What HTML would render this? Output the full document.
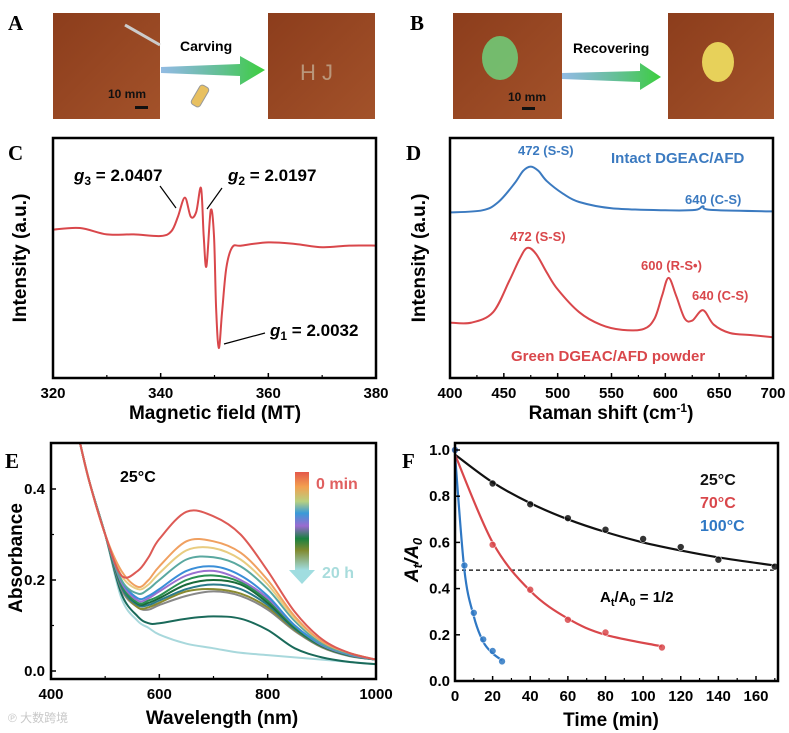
<!DOCTYPE html>
<html><head><meta charset="utf-8"><style>
body{margin:0;background:#fff;}
svg{display:block;font-family:"Liberation Sans","Noto Sans CJK SC",sans-serif;}
.t{font-weight:bold;font-size:15px;}
.ti{font-weight:bold;font-size:19px;}
.pl{font-family:"Liberation Serif",serif;font-weight:bold;font-size:21px;}
</style></head><body>
<svg id="fig" width="789" height="733" viewBox="0 0 789 733" xmlns="http://www.w3.org/2000/svg">
<defs>
<linearGradient id="photo" x1="0" y1="0" x2="1" y2="1"><stop offset="0" stop-color="#8c3d1c"/><stop offset="1" stop-color="#a3522a"/></linearGradient>
<linearGradient id="arr" x1="0" y1="0" x2="1" y2="0"><stop offset="0" stop-color="#4a8ed0" stop-opacity="0.6"/><stop offset="1" stop-color="#3ccf3c"/></linearGradient>
<linearGradient id="cbar" x1="0" y1="0" x2="0" y2="1"><stop offset="0" stop-color="#e4584a"/><stop offset="0.15" stop-color="#f2a050"/><stop offset="0.3" stop-color="#b8d080"/><stop offset="0.42" stop-color="#3a9ad8"/><stop offset="0.55" stop-color="#9a6ad0"/><stop offset="0.68" stop-color="#1a8040"/><stop offset="0.8" stop-color="#808a30"/><stop offset="1" stop-color="#a0dde0"/></linearGradient>
<clipPath id="clipE"><rect x="51" y="443" width="325" height="236"/></clipPath>
</defs>
<g id="panelA">
<text class="pl" x="8" y="30">A</text>
<rect x="53" y="13" width="107" height="106" fill="url(#photo)"/>
<line x1="125" y1="25" x2="160" y2="45" stroke="#ccc" stroke-width="3"/>
<text x="108" y="98" font-size="12" font-weight="bold" fill="#111">10 mm</text>
<rect x="135" y="106" width="13" height="3" fill="#111"/>
<polygon points="161,67 240,64 240,56 265,70 240,85 240,76 161,73" fill="url(#arr)"/>
<text x="180" y="51" font-size="14" font-weight="bold">Carving</text>
<rect x="195" y="85" width="10" height="22" rx="3" transform="rotate(30 200 96)" fill="#e8c060" stroke="#999"/>
<rect x="268" y="13" width="107" height="106" fill="url(#photo)"/>
<text x="300" y="80" font-size="22" fill="#c8b8a0" opacity="0.7">H J</text>
<text class="pl" x="410" y="30">B</text>
<rect x="453" y="13" width="109" height="106" fill="url(#photo)"/>
<ellipse cx="500" cy="58" rx="18" ry="22" fill="#6fd07a" opacity="0.85"/>
<text x="508" y="101" font-size="12" font-weight="bold" fill="#111">10 mm</text>
<rect x="522" y="107" width="13" height="3" fill="#111"/>
<polygon points="562,73 640,71 640,63 661,77 640,90 640,82 562,79" fill="url(#arr)"/>
<text x="573" y="53" font-size="14" font-weight="bold">Recovering</text>
<rect x="668" y="13" width="106" height="106" fill="url(#photo)"/>
<ellipse cx="718" cy="62" rx="16" ry="20" fill="#f0e060" opacity="0.9"/>
</g>
<g id="C"></g>
<g id="D"></g>
<g id="E"></g>
<g id="F"></g>
<text x="8" y="722" font-size="12" fill="#c8c8c8">℗ 大数跨境</text>
</svg>
<script>
// ---- data ----
const cField=[320,325,330,335,340,342,343.2,344.5,345.6,346.6,347.5,348.0,348.5,349.3,349.9,350.3,350.8,351.4,352.2,353.3,355,360,365,370,375,380];
const cIntensity=[0.74,0.75,0.71,0.71,0.70,0.73,0.82,0.94,0.82,0.85,1.0,0.70,0.51,0.86,0.70,0.25,0.0,0.22,0.50,0.63,0.64,0.66,0.65,0.63,0.64,0.64];
const dShift=[400,430,445,460,468,475,482,490,505,520,550,600,628,635,642,700];
const dIntact=[0.70,0.71,0.75,0.84,0.90,0.92,0.90,0.85,0.79,0.75,0.72,0.71,0.712,0.73,0.712,0.705];
const dGreenShift=[400,420,440,455,465,472,480,490,500,520,540,560,580,590,597,603,610,618,625,635,645,660,680,700];
const dGreen=[0.17,0.17,0.22,0.37,0.48,0.53,0.50,0.41,0.33,0.22,0.16,0.135,0.14,0.19,0.30,0.385,0.30,0.19,0.18,0.23,0.16,0.12,0.11,0.10];
const eWl=[450,470,500,530,560,580,600,650,700,750,800,850,900,950,1000];
const eCurves=[
[0.52,0.42,0.30,0.21,0.22,0.25,0.29,0.35,0.34,0.30,0.22,0.13,0.07,0.04,0.025],
[0.52,0.42,0.30,0.22,0.185,0.20,0.23,0.285,0.285,0.26,0.20,0.12,0.065,0.04,0.025],
[0.52,0.42,0.30,0.21,0.18,0.19,0.215,0.265,0.27,0.245,0.19,0.115,0.065,0.04,0.025],
[0.52,0.42,0.30,0.20,0.17,0.18,0.20,0.245,0.25,0.23,0.18,0.11,0.06,0.038,0.025],
[0.52,0.42,0.30,0.20,0.16,0.165,0.18,0.22,0.23,0.21,0.165,0.10,0.058,0.037,0.025],
[0.52,0.42,0.30,0.195,0.155,0.16,0.175,0.21,0.22,0.20,0.16,0.10,0.057,0.036,0.025],
[0.52,0.42,0.30,0.19,0.15,0.155,0.165,0.20,0.21,0.195,0.155,0.097,0.056,0.035,0.025],
[0.52,0.42,0.30,0.19,0.148,0.15,0.16,0.19,0.20,0.19,0.15,0.095,0.055,0.035,0.025],
[0.52,0.42,0.30,0.185,0.145,0.145,0.155,0.18,0.19,0.18,0.145,0.092,0.054,0.034,0.025],
[0.52,0.42,0.30,0.185,0.14,0.14,0.15,0.175,0.18,0.17,0.14,0.09,0.053,0.034,0.025],
[0.52,0.42,0.30,0.18,0.14,0.135,0.145,0.165,0.175,0.165,0.135,0.088,0.052,0.033,0.025],
[0.52,0.42,0.30,0.17,0.12,0.105,0.105,0.115,0.12,0.115,0.09,0.05,0.03,0.02,0.015],
[0.52,0.42,0.30,0.16,0.11,0.095,0.08,0.06,0.05,0.04,0.035,0.03,0.025,0.02,0.015]];
const eColors=['#dd5a55','#f0a060','#e8cc80','#5aa8a0','#3a8ed8','#9a70d0','#2a9050','#1a6a3a','#2a7a8a','#8a8a30','#888888','#1a6a5a','#a8d8dc'];
const fT25=[0,20,40,60,80,100,120,140,170];
const fA25=[1.0,0.855,0.765,0.705,0.655,0.615,0.58,0.525,0.495];
const fT70=[0,20,40,60,80,110];
const fA70=[1.0,0.59,0.395,0.265,0.21,0.145];
const fT100=[0,5,10,15,20,25];
const fA100=[1.0,0.5,0.295,0.18,0.13,0.085];
const fFit25=[0.98,0.86,0.77,0.70,0.645,0.60,0.565,0.535,0.50];
const fFit70=[0.98,0.60,0.39,0.27,0.20,0.15];
const fFit100=[0.98,0.48,0.28,0.17,0.12,0.09];
const halfLevel=0.48;

const NS='http://www.w3.org/2000/svg';
function mk(parent,tag,attrs,txt){const e=document.createElementNS(NS,tag);for(const k in attrs)e.setAttribute(k,attrs[k]);if(txt!==undefined)e.textContent=txt;parent.appendChild(e);return e;}
function lin(d0,d1,r0,r1){return v=>r0+(v-d0)/(d1-d0)*(r1-r0);}
function smooth(pts){let d='M'+pts[0][0].toFixed(1)+','+pts[0][1].toFixed(1);for(let i=0;i<pts.length-1;i++){const p0=pts[i-1]||pts[i],p1=pts[i],p2=pts[i+1],p3=pts[i+2]||p2;const c1=[p1[0]+(p2[0]-p0[0])/6,p1[1]+(p2[1]-p0[1])/6],c2=[p2[0]-(p3[0]-p1[0])/6,p2[1]-(p3[1]-p1[1])/6];d+='C'+c1.map(v=>v.toFixed(1))+' '+c2.map(v=>v.toFixed(1))+' '+p2.map(v=>v.toFixed(1));}return d;}
function box(g,x0,y0,x1,y1,name){const r=mk(g,'rect',{x:x0,y:y0,width:x1-x0,height:y1-y0,fill:'none',stroke:'#000','stroke-width':2.5});}
function xTicks(g,sx,vals,minor,y,labels,ly){vals.forEach((v,i)=>{const l=mk(g,'line',{x1:sx(v),x2:sx(v),y1:y,y2:y-5,stroke:'#000','stroke-width':1.5});const t=mk(g,'text',{x:sx(v),y:ly,'text-anchor':'middle',class:'t'},labels[i]);});minor.forEach(v=>{const l=mk(g,'line',{x1:sx(v),x2:sx(v),y1:y,y2:y-3,stroke:'#000','stroke-width':1.2});});}
function label(g,x,y,txt,name,attrs){const t=mk(g,'text',Object.assign({x:x,y:y},attrs||{}),txt);return t;}

// ---- C ----
(function(){const g=document.getElementById('C');const sx=lin(320,380,53,376),sy=lin(0,1,348,188);
label(g,8,160,'C','panel-label-c',{class:'pl'});
const p=mk(g,'path',{d:smooth(cField.map((f,i)=>[sx(f),sy(cIntensity[i])])),fill:'none',stroke:'#d9474b','stroke-width':2});

box(g,53,138,376,378,'plot-frame-c');
xTicks(g,sx,[320,340,360,380],[330,350,370],378,['320','340','360','380'],398);
label(g,215,419,'Magnetic field (MT)','x-axis-title-c',{class:'ti','text-anchor':'middle'});
label(g,0,0,'Intensity (a.u.)','y-axis-title-c',{class:'ti','text-anchor':'middle',transform:'translate(26,258) rotate(-90)'});
label(g,74,181,'','g3-label',{'font-size':17,'font-weight':'bold'}).innerHTML='<tspan font-style="italic">g</tspan><tspan font-size="12" dy="4">3</tspan><tspan dy="-4"> = 2.0407</tspan>';
label(g,228,181,'','g2-label',{'font-size':17,'font-weight':'bold'}).innerHTML='<tspan font-style="italic">g</tspan><tspan font-size="12" dy="4">2</tspan><tspan dy="-4"> = 2.0197</tspan>';
label(g,270,336,'','g1-label',{'font-size':17,'font-weight':'bold'}).innerHTML='<tspan font-style="italic">g</tspan><tspan font-size="12" dy="4">1</tspan><tspan dy="-4"> = 2.0032</tspan>';
[[160,186,176,208],[222,188,207,209],[265,333,224,344]].forEach(a=>{const l=mk(g,'line',{x1:a[0],y1:a[1],x2:a[2],y2:a[3],stroke:'#000','stroke-width':1.2});});
})();

// ---- D ----
(function(){const g=document.getElementById('D');const sx=lin(400,700,450,773),sy=lin(0,1,358,150);
label(g,406,160,'D','panel-label-d',{class:'pl'});
const p1=mk(g,'path',{d:smooth(dShift.map((f,i)=>[sx(f),sy(dIntact[i])])),fill:'none',stroke:'#3b7ac0','stroke-width':2});

const p2=mk(g,'path',{d:smooth(dGreenShift.map((f,i)=>[sx(f),sy(dGreen[i])])),fill:'none',stroke:'#d9474b','stroke-width':2});

box(g,450,138,773,378,'plot-frame-d');
xTicks(g,sx,[400,450,500,550,600,650,700],[425,475,525,575,625,675],378,['400','450','500','550','600','650','700'],398);
label(g,611,419,'','x-axis-title-d',{class:'ti','text-anchor':'middle'}).innerHTML='Raman shift (cm<tspan font-size="12" dy="-7">-1</tspan><tspan dy="7">)</tspan>';
label(g,0,0,'Intensity (a.u.)','y-axis-title-d',{class:'ti','text-anchor':'middle',transform:'translate(425,258) rotate(-90)'});
label(g,518,155,'472 (S-S)','peak-label-472-intact',{'font-size':13,'font-weight':'bold',fill:'#3b7ac0'});
label(g,611,163,'Intact DGEAC/AFD','legend-intact',{'font-size':15,'font-weight':'bold',fill:'#3b7ac0'});
label(g,685,204,'640 (C-S)','peak-label-640-intact',{'font-size':13,'font-weight':'bold',fill:'#3b7ac0'});
label(g,510,241,'472 (S-S)','peak-label-472-green',{'font-size':13,'font-weight':'bold',fill:'#d9474b'});
label(g,641,270,'600 (R-S•)','peak-label-600',{'font-size':13,'font-weight':'bold',fill:'#d9474b'});
label(g,692,300,'640 (C-S)','peak-label-640-green',{'font-size':13,'font-weight':'bold',fill:'#d9474b'});
label(g,511,361,'Green DGEAC/AFD powder','legend-green',{'font-size':15,'font-weight':'bold',fill:'#d9474b'});
})();

// ---- E ----
(function(){const g=document.getElementById('E');const sx=lin(400,1000,51,376),sy=lin(0,0.4,671,489);
label(g,5,468,'E','panel-label-e',{class:'pl'});
const cg=mk(g,'g',{'clip-path':'url(#clipE)'});
for(let k=eCurves.length-1;k>=0;k--){const c=eCurves[k];const p=mk(cg,'path',{d:smooth(eWl.map((w,i)=>[sx(w),sy(c[i])])),fill:'none',stroke:eColors[k],'stroke-width':2});
}
box(g,51,443,376,679,'plot-frame-e');
xTicks(g,sx,[400,600,800,1000],[500,700,900],679,['400','600','800','1000'],699);
[0,0.2,0.4].forEach(v=>{const l=mk(g,'line',{x1:51,x2:56,y1:sy(v),y2:sy(v),stroke:'#000','stroke-width':1.5});
label(g,45,sy(v)+5,v.toFixed(1),'y-tick-label',{class:'t','text-anchor':'end'});});
[0.1,0.3].forEach(v=>{const l=mk(g,'line',{x1:51,x2:54,y1:sy(v),y2:sy(v),stroke:'#000','stroke-width':1.2});});
label(g,222,724,'Wavelength (nm)','x-axis-title-e',{class:'ti','text-anchor':'middle'});
label(g,0,0,'Absorbance','y-axis-title-e',{class:'ti','text-anchor':'middle',transform:'translate(22,558) rotate(-90)'});
label(g,120,482,'25°C','temperature-label',{'font-size':16,'font-weight':'bold'});
const cb=mk(g,'rect',{x:295,y:472,width:14,height:98,fill:'url(#cbar)'});
const ah=mk(g,'polygon',{points:'289,570 315,570 302,584',fill:'#a0dde0'});
label(g,316,489,'0 min','color-bar-start-label',{'font-size':16,'font-weight':'bold',fill:'#e06060'});
label(g,322,578,'20 h','color-bar-end-label',{'font-size':16,'font-weight':'bold',fill:'#a8dcdc'});
})();

// ---- F ----
(function(){const g=document.getElementById('F');const sx=lin(0,160,455,756),sy=lin(0,1,681,450);
label(g,402,468,'F','panel-label-f',{class:'pl'});
const dl=mk(g,'line',{x1:455,x2:778,y1:sy(halfLevel),y2:sy(halfLevel),stroke:'#000','stroke-width':1.2,'stroke-dasharray':'4,3'});
[[fT25,fA25,fFit25,'#111','25c'],[fT70,fA70,fFit70,'#d9474b','70c'],[fT100,fA100,fFit100,'#2f78c4','100c']].forEach(s=>{
const p=mk(g,'path',{d:smooth(s[0].map((t,i)=>[sx(t),sy(s[2][i])])),fill:'none',stroke:s[3],'stroke-width':2.2});
s[0].forEach((t,i)=>{const c=mk(g,'circle',{cx:sx(t),cy:sy(s[1][i]),r:3.5,fill:s[3],stroke:'#fff','stroke-width':0.6,opacity:0.85});});});
box(g,455,443,778,681,'plot-frame-f');
const xv=[0,20,40,60,80,100,120,140,160];
xTicks(g,sx,xv,[10,30,50,70,90,110,130,150,170],681,xv.map(String),701);
[0,0.2,0.4,0.6,0.8,1.0].forEach(v=>{const l=mk(g,'line',{x1:455,x2:460,y1:sy(v),y2:sy(v),stroke:'#000','stroke-width':1.5});
label(g,450,sy(v)+5,v.toFixed(1),'y-tick-label',{class:'t','text-anchor':'end'});});
label(g,611,726,'Time (min)','x-axis-title-f',{class:'ti','text-anchor':'middle'});
label(g,0,0,'','y-axis-title-f',{class:'ti','text-anchor':'middle','font-style':'italic',transform:'translate(418,560) rotate(-90)'}).innerHTML='A<tspan font-size="13" dy="4">t</tspan><tspan dy="-4">/A</tspan><tspan font-size="13" dy="4">0</tspan>';
label(g,700,485,'25°C','legend-25c',{'font-size':16,'font-weight':'bold',fill:'#111'});
label(g,700,508,'70°C','legend-70c',{'font-size':16,'font-weight':'bold',fill:'#d9474b'});
label(g,700,531,'100°C','legend-100c',{'font-size':16,'font-weight':'bold',fill:'#2f78c4'});
label(g,600,602,'','half-life-label',{'font-size':15,'font-weight':'bold'}).innerHTML='A<tspan font-size="11" dy="4">t</tspan><tspan dy="-4">/A</tspan><tspan font-size="11" dy="4">0</tspan><tspan dy="-4"> = 1/2</tspan>';
})();
</script>
</body></html>
